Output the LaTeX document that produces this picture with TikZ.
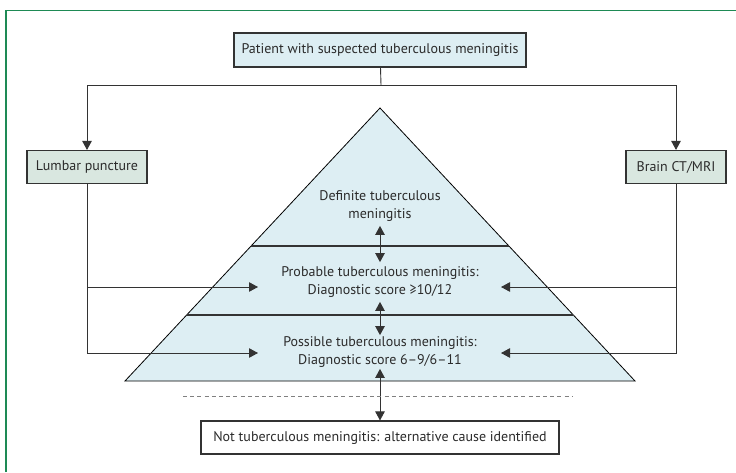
\documentclass[tikz,border=0pt]{standalone}
\usepackage{fontspec}
\setmainfont{PT Sans}
\usetikzlibrary{arrows.meta}
\definecolor{framegreen}{HTML}{1E8A55}
\definecolor{lineC}{HTML}{333333}
\definecolor{blueFill}{HTML}{DDEEF3}
\definecolor{greyFill}{HTML}{D9E7E0}
\definecolor{txtC}{HTML}{2B2B2B}
\tikzset{
  base/.style={font=\fontsize{14}{18.5}\selectfont, text=txtC},
  boxnode/.style={base, draw=lineC, line width=1.1pt, inner sep=0pt, align=center, minimum height=33pt},
  lbl/.style={base, align=center, inner xsep=3pt, inner ysep=4pt},
  conn/.style={draw=lineC, line width=0.9pt},
  arr/.style={conn, -{Triangle[length=9pt,width=9.5pt]}},
  darr/.style={conn, {Triangle[length=9pt,width=9.5pt]}-{Triangle[length=9pt,width=9.5pt]}}
}
\begin{document}
\begin{tikzpicture}[x=1pt,y=-1pt]
\useasboundingbox (0,0) rectangle (736,472);
% frame
\draw[framegreen, line width=1.2pt] (6,472) -- (6,10.5) -- (736,10.5);
% triangle
\filldraw[fill=blueFill, draw=black, line width=0.8pt] (380,108) -- (125,381) -- (635,381) -- cycle;
\draw[lineC, line width=1.1pt] (251.1,246) -- (508.9,246);
\draw[lineC, line width=1.1pt] (186.7,315) -- (573.3,315);
% boxes
\node[boxnode, fill=blueFill, minimum width=292pt, minimum height=34pt] (top) at (380,50) {Patient with suspected tuberculous meningitis};
\node[boxnode, fill=greyFill, minimum width=120pt] (lumbar) at (87,167) {Lumbar puncture};
\node[boxnode, fill=greyFill, minimum width=100pt] (brain) at (676,167) {Brain CT/MRI};
\node[boxnode, fill=white, minimum width=358pt] (notb) at (380,437.5) {Not tuberculous meningitis: alternative cause identified};
% pyramid labels
\node[lbl] (def) at (380,206) {Definite tuberculous\\meningitis};
\node[lbl] (prob) at (380,282) {Probable tuberculous meningitis:\\Diagnostic score ≥10/12};
\node[lbl, inner ysep=1pt] (poss) at (380,352) {Possible tuberculous meningitis:\\Diagnostic score 6–9/6–11};
% coordinates
\coordinate (branch) at (381,85);
\coordinate (probL) at (258,287);
\coordinate (possL) at (258,353);
\coordinate (probR) at (501,287);
\coordinate (possR) at (501,353);
% connectors
\draw[conn] (top) -- (branch);
\draw[arr] (branch) -| (lumbar);
\draw[arr] (branch) -| (brain);
\draw[arr] (lumbar) |- (probL);
\draw[arr] (lumbar) |- (possL);
\draw[arr] (brain) |- (probR);
\draw[arr] (brain) |- (possR);
\draw[darr] (def) -- (prob);
\draw[darr] (prob) -- (poss);
\draw[darr] (poss) -- (notb);
% dashed line
\draw[draw=gray, line width=1pt, dash pattern=on 4pt off 3.2pt] (183,396.5) -- (572,396.5);
\end{tikzpicture}
\end{document}
